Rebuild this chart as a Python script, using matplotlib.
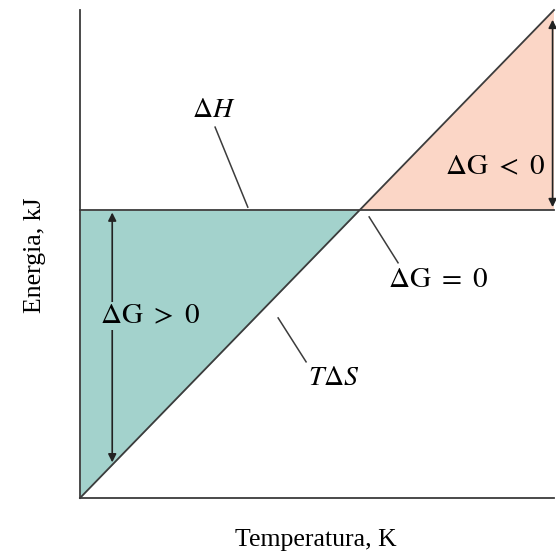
import matplotlib
matplotlib.use("Agg")
import matplotlib.pyplot as plt
import numpy as np

plt.rcParams['font.family'] = ['Liberation Serif', 'DejaVu Serif']
plt.rcParams['mathtext.fontset'] = 'stix'

# data (normalised units)
temperature = [0.0, 1.0]
delta_h = [0.59, 0.59]
t_delta_s = [0.0, 1.0]

TEAL = '#a3d2cc'
PEACH = '#fbd6c6'
LINE = '#3c3c3c'

W, H, DPI = 556, 559, 100
fig = plt.figure(figsize=(W / DPI, H / DPI), dpi=DPI)
# axes box in pixels: left 80, right 554, top 10, bottom 498
ax = fig.add_axes([80 / W, (H - 498) / H, 474 / W, 488 / H])
ax.set_xlim(0, 1)
ax.set_ylim(0, 1)

T = np.array(temperature)
dh = np.array(delta_h)
tds = np.array(t_delta_s)

ax.fill_between(T, dh, tds, where=dh >= tds, interpolate=True,
                color=TEAL, linewidth=0)
ax.fill_between(T, dh, tds, where=tds >= dh, interpolate=True,
                color=PEACH, linewidth=0)
ax.plot(T, dh, color=LINE, lw=1.3, clip_on=False)
ax.plot(T, tds, color=LINE, lw=1.3, clip_on=False)

# double arrows for delta G
x_left = 0.068
ax.annotate('', xy=(x_left, x_left * tds[-1] + 0.005), xytext=(x_left, dh[0] - 0.005),
            arrowprops=dict(arrowstyle='<|-|>', color='#222222', lw=1.2,
                            mutation_scale=12, shrinkA=0, shrinkB=0))
x_right = 0.997
ax.annotate('', xy=(x_right, 0.98), xytext=(x_right, dh[0] + 0.006),
            arrowprops=dict(arrowstyle='<|-|>', color='#222222', lw=1.2,
                            mutation_scale=12, shrinkA=0, shrinkB=0),
            annotation_clip=False)

# labels with leader lines
fs = 20
fs_g = 21
ax.text(0.283, 0.795, r'$\Delta H$', fontsize=fs, ha='center', va='center')
ax.plot([0.285, 0.354], [0.760, 0.596], color=LINE, lw=1.1)

ax.text(0.876, 0.678, r'$\Delta\mathrm{G}\ <\ 0$', fontsize=fs_g,
        ha='center', va='center')

ax.text(0.650, 0.447, r'$\Delta\mathrm{G}\ =\ 0$', fontsize=fs_g,
        ha='left', va='center')
ax.plot([0.610, 0.671], [0.576, 0.482], color=LINE, lw=1.1)

ax.text(0.148, 0.373, r'$\Delta\mathrm{G}\ >\ 0$', fontsize=fs_g,
        ha='center', va='center',
        bbox=dict(facecolor=TEAL, edgecolor='none', pad=1))

ax.text(0.48, 0.244, r'$T\Delta S$', fontsize=fs, ha='left', va='center')
ax.plot([0.418, 0.477], [0.369, 0.279], color=LINE, lw=1.1)

for side in ('top', 'right'):
    ax.spines[side].set_visible(False)
for side in ('left', 'bottom'):
    ax.spines[side].set_color(LINE)
    ax.spines[side].set_linewidth(1.3)
ax.set_xticks([])
ax.set_yticks([])
ax.patch.set_alpha(0)

fig.text(316 / W, 1 - 540 / H, 'Temperatura, K', fontsize=18.5,
         ha='center', va='center')
fig.text(35 / W, 1 - 255 / H, 'Energia, kJ', fontsize=18.5,
         ha='center', va='center', rotation=90)

fig.savefig('out.png', dpi=DPI)
